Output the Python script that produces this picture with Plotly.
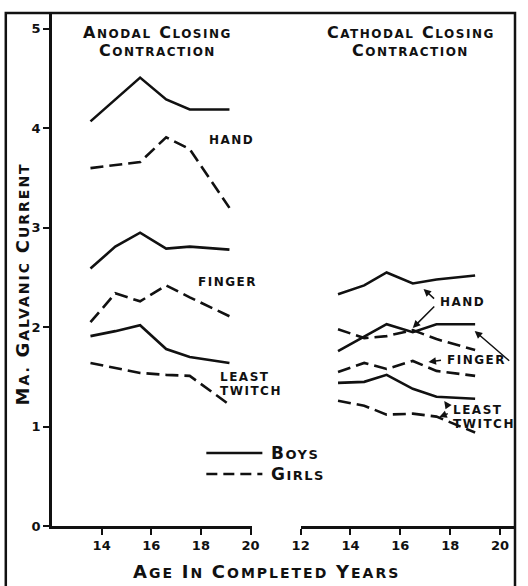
import plotly.graph_objects as go

# ---------------- data ----------------
ages_anodal = [13.55, 14.55, 15.55, 16.6, 17.55, 19.15]
ages_cathodal = [13.5, 14.55, 15.45, 16.5, 17.45, 19.0]

anodal_hand_boys = [4.07, 4.29, 4.51, 4.29, 4.19, 4.19]
anodal_hand_girls = [3.60, 3.63, 3.66, 3.91, 3.79, 3.20]
anodal_finger_boys = [2.59, 2.81, 2.95, 2.79, 2.81, 2.78]
anodal_finger_girls = [2.05, 2.34, 2.26, 2.42, 2.30, 2.11]
anodal_twitch_boys = [1.91, 1.96, 2.02, 1.78, 1.70, 1.64]
anodal_twitch_girls = [1.64, 1.59, 1.54, 1.52, 1.51, 1.22]

cathodal_hand_boys = [2.33, 2.42, 2.55, 2.44, 2.48, 2.52]
cathodal_hand_girls = [1.98, 1.89, 1.91, 1.97, 1.88, 1.77]
cathodal_finger_boys = [1.76, 1.91, 2.03, 1.95, 2.03, 2.03]
cathodal_finger_girls = [1.55, 1.64, 1.58, 1.66, 1.56, 1.51]
cathodal_twitch_boys = [1.44, 1.45, 1.52, 1.38, 1.30, 1.28]
cathodal_twitch_girls = [1.26, 1.21, 1.12, 1.13, 1.10, 0.94]

y_ticks = [0, 1, 2, 3, 4, 5]
x_ticks_left = [14, 16, 18, 20]
x_ticks_right = [12, 14, 16, 18, 20]

FONT = "DejaVu Sans"
INK = "#111111"


def sc(text, big=15, small=11, ls=1.5):
    """Small caps: first letter of each word bigger."""
    out = []
    for w in text.split(" "):
        if not w:
            continue
        out.append(f"<span style='font-size:{big}px;letter-spacing:{ls}px'>{w[0]}</span>"
                   f"<span style='font-size:{small}px;letter-spacing:{ls}px'>{w[1:]}</span>")
    return "  ".join(out)


def spaced(text, ls=1.5):
    return f"<span style='letter-spacing:{ls}px'>{text}</span>"


fig = go.Figure()

solid = dict(color=INK, width=2.6)
dashed = dict(color=INK, width=2.6, dash="13px,6px")

for ys, ln in [(anodal_hand_boys, solid), (anodal_hand_girls, dashed),
               (anodal_finger_boys, solid), (anodal_finger_girls, dashed),
               (anodal_twitch_boys, solid), (anodal_twitch_girls, dashed)]:
    fig.add_trace(go.Scatter(x=ages_anodal, y=ys, mode="lines", line=ln,
                             xaxis="x", yaxis="y", showlegend=False,
                             hoverinfo="skip"))

for ys, ln in [(cathodal_hand_boys, solid), (cathodal_hand_girls, dashed),
               (cathodal_finger_boys, solid), (cathodal_finger_girls, dashed),
               (cathodal_twitch_boys, solid), (cathodal_twitch_girls, dashed)]:
    fig.add_trace(go.Scatter(x=ages_cathodal, y=ys, mode="lines", line=ln,
                             xaxis="x2", yaxis="y2", showlegend=False,
                             hoverinfo="skip"))

tickfont = dict(family=FONT, size=13, color=INK, weight="bold")

fig.update_layout(
    width=528, height=586,
    margin=dict(l=52, r=5, t=13, b=60),
    paper_bgcolor="white", plot_bgcolor="white",
    font=dict(family=FONT, color=INK),
    xaxis=dict(domain=[0, 0.431], range=[12, 20.04], tickvals=x_ticks_left,
               ticks="outside", ticklen=6, tickwidth=2, tickcolor=INK,
               showline=True, linecolor=INK, linewidth=2.5,
               showgrid=False, zeroline=False, tickfont=tickfont,
               fixedrange=True),
    yaxis=dict(range=[0, 5.16], tickvals=y_ticks, ticks="outside",
               ticklen=6, tickwidth=2, tickcolor=INK,
               showline=True, linecolor=INK, linewidth=2.5,
               showgrid=False, zeroline=False, tickfont=tickfont,
               anchor="x"),
    xaxis2=dict(domain=[0.537, 1], range=[12, 20.6], tickvals=x_ticks_right,
                ticks="outside", ticklen=6, tickwidth=2, tickcolor=INK,
                showline=True, linecolor=INK, linewidth=2.5,
                showgrid=False, zeroline=False, tickfont=tickfont,
                anchor="y2"),
    yaxis2=dict(range=[0, 5.16], visible=False, anchor="x2",
                matches="y"),
)

# outer frame
fig.add_shape(type="rect", xref="paper", yref="paper",
              x0=-47 / 471, x1=1.0, y0=-0.2, y1=1.0,
              line=dict(color=INK, width=2.5), layer="below")

ann = []


def px(xp, yp):
    """pixel -> paper coordinates"""
    return (xp - 52) / 471, (526 - yp) / 513


def add_text(xp, yp, text, xanchor="center", size=11, angle=0):
    x, y = px(xp, yp)
    ann.append(dict(x=x, y=y, xref="paper", yref="paper", text=text,
                    showarrow=False, xanchor=xanchor, yanchor="middle",
                    textangle=angle,
                    font=dict(family=FONT, size=size, color=INK,
                              weight="bold")))


add_text(159, 32, sc("ANODAL CLOSING", 16, 12))
add_text(159, 50, sc("CONTRACTION", 16, 12))
add_text(417, 32, sc("CATHODAL CLOSING", 16, 12))
add_text(417, 50, sc("CONTRACTION", 16, 12))
add_text(270, 571, sc("AGE IN COMPLETED YEARS", 18, 14, 2))
add_text(21, 284, sc("MA. GALVANIC CURRENT", 18, 14, 2), angle=-90)

add_text(210, 140, spaced("HAND"), xanchor="left", size=12)
add_text(198, 282, spaced("FINGER"), xanchor="left", size=12)
add_text(221, 377, spaced("LEAST"), xanchor="left", size=12)
add_text(221, 391, spaced("TWITCH"), xanchor="left", size=12)

add_text(445, 302, spaced("HAND"), xanchor="left", size=12)
add_text(452, 360, spaced("FINGER"), xanchor="left", size=12)
add_text(458, 410, spaced("LEAST"), xanchor="left", size=12)
add_text(458, 424, spaced("TWITCH"), xanchor="left", size=12)

# legend
for yp, dash, label in [(453, "solid", "BOYS"), (474, "11px,6px", "GIRLS")]:
    x0, y0 = px(209, yp)
    x1, _ = px(266, yp)
    fig.add_shape(type="line", xref="paper", yref="paper",
                  x0=x0, x1=x1, y0=y0, y1=y0,
                  line=dict(color=INK, width=2.5, dash=dash))
    add_text(273, yp, sc(label, 17, 13, 1.5), xanchor="left")


def arrow(x_tail, y_tail, x_head, y_head):
    xh, yh = px(x_head, y_head)
    ann.append(dict(x=xh, y=yh, ax=x_tail - x_head, ay=y_tail - y_head,
                    xref="paper", yref="paper",
                    axref="pixel", ayref="pixel", text="", showarrow=True,
                    arrowhead=2, arrowsize=1, arrowwidth=1.5,
                    arrowcolor=INK))


arrow(442, 300, 430, 289)
arrow(442, 305, 419, 328)
arrow(449, 360, 435, 362)
arrow(518, 362, 482, 331)
arrow(456, 408, 451, 401)
arrow(456, 413, 446, 417)

fig.update_layout(annotations=ann)

fig.write_html("out.html",
               config={"displayModeBar": False},
               post_script="document.body.style.margin='0px';"
                           "document.body.style.overflow='hidden';")
